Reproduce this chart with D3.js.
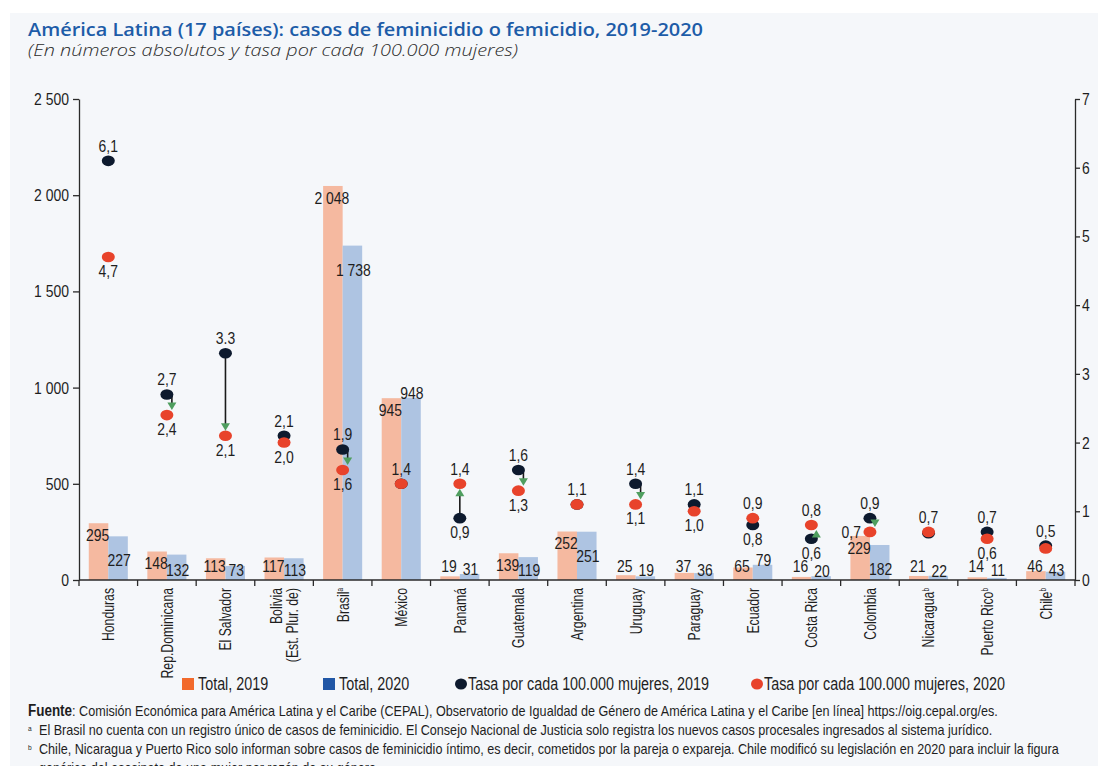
<!DOCTYPE html>
<html>
<head>
<meta charset="utf-8">
<script src="https://cdn.jsdelivr.net/npm/d3@7"></script>
<style>
  body { margin: 0; background: #fff; }
  svg text { font-family: "Liberation Sans", Arial, sans-serif; fill: #1e1e1e; }
  svg text.title { font-family: "Open Sans", sans-serif; }
</style>
</head>
<body>
<svg id="chart" width="1098" height="766"></svg>
<script>
const countries = ['Honduras', 'Rep.Dominicana', 'El Salvador', 'Bolivia', 'Brasil', 'México', 'Panamá',
  'Guatemala', 'Argentina', 'Uruguay', 'Paraguay', 'Ecuador', 'Costa Rica', 'Colombia', 'Nicaragua',
  'Puerto Rico', 'Chile'];
const countryNotes = ['', '', '', '', 'a', '', '', '', '', '', '', '', '', '', 'b', 'b', 'b'];
const total2019 = [295, 148, 113, 117, 2048, 945, 19, 139, 252, 25, 37, 65, 16, 229, 21, 14, 46];
const total2020 = [227, 132, 73, 113, 1738, 948, 31, 119, 251, 19, 36, 79, 20, 182, 22, 11, 43];
const rate2019 = [6.1, 2.7, 3.3, 2.1, 1.9, 1.4, 0.9, 1.6, 1.1, 1.4, 1.1, 0.8, 0.6, 0.9, 0.68, 0.7, 0.5];
const rate2020 = [4.7, 2.4, 2.1, 2.0, 1.6, 1.4, 1.4, 1.3, 1.1, 1.1, 1.0, 0.9, 0.8, 0.7, 0.7, 0.6, 0.46];
const arrowCountries = ['Rep.Dominicana', 'El Salvador', 'Brasil', 'Panamá', 'Guatemala', 'Uruguay', 'Costa Rica', 'Colombia'];
const leftTicks = [0, 500, 1000, 1500, 2000, 2500];
const rightTicks = [0, 1, 2, 3, 4, 5, 6, 7];
const legendLabels = ['Total, 2019', 'Total, 2020', 'Tasa por cada 100.000 mujeres, 2019', 'Tasa por cada 100.000 mujeres, 2020'];

const colors = {
  bar19: '#f5b9a0', bar20: '#aec4e2',
  leg19: '#f26a2c', leg20: '#2157a6',
  dot19: '#0d1a2e', dot20: '#e8432b',
  arrow: '#4f9e5f', axis: '#2a2a2a'
};

const locale = d3.formatLocale({ decimal: ',', thousands: ' ', grouping: [3], currency: ['', ''] });
const fmtInt = locale.format(',.0f');
const fmtRate = locale.format('.1f');

const data = countries.map((c, i) => ({
  country: c, note: countryNotes[i],
  t19: total2019[i], t20: total2020[i],
  r19: rate2019[i], r20: rate2020[i]
}));

const svg = d3.select('#chart');

// panel + titles
svg.append('rect').attr('x', 10).attr('y', 13).attr('width', 1088).attr('height', 753).attr('fill', '#f5f7fa');

svg.append('text').attr('class', 'title')
  .attr('x', 28).attr('y', 36)
  .attr('textLength', 675).attr('lengthAdjust', 'spacingAndGlyphs')
  .style('font-size', '17.5px').style('font-weight', 600).style('fill', '#1d5ca8')
  .text('América Latina (17 países): casos de feminicidio o femicidio, 2019-2020');

svg.append('text').attr('class', 'title')
  .attr('x', 28).attr('y', 56)
  .attr('textLength', 490).attr('lengthAdjust', 'spacingAndGlyphs')
  .style('font-size', '16px').style('font-style', 'italic').style('font-weight', 300).style('fill', '#2b2b2b')
  .text('(En números absolutos y tasa por cada 100.000 mujeres)');

// scales
const x = d3.scaleBand().domain(countries).range([79, 1075]);
const xs = d3.scaleBand().domain(['2019', '2020']).range([0, x.bandwidth()]).paddingOuter(0.5);
const yL = d3.scaleLinear().domain([0, 2500]).range([580, 99]);
const yR = d3.scaleLinear().domain([0, 7]).range([580, 99]);

// bars
const bars = svg.append('g');
bars.selectAll('rect.b19').data(data).enter().append('rect')
  .attr('x', d => x(d.country) + xs('2019'))
  .attr('y', d => yL(d.t19))
  .attr('width', xs.bandwidth())
  .attr('height', d => yL(0) - yL(d.t19))
  .attr('fill', colors.bar19);
bars.selectAll('rect.b20').data(data).enter().append('rect')
  .attr('x', d => x(d.country) + xs('2020'))
  .attr('y', d => yL(d.t20))
  .attr('width', xs.bandwidth())
  .attr('height', d => yL(0) - yL(d.t20))
  .attr('fill', colors.bar20);

// bar value labels
const label19Y = d => Math.min(yL(d.t19) + 12, 566);
const label20Y = d => d.t20 > d.t19 ? yL(d.t20) - 5 : Math.min(yL(d.t20) + 24, 570);
const barLabels = svg.append('g').style('font-size', '17px').attr('text-anchor', 'middle');
barLabels.selectAll('text.l19').data(data).enter().append('text')
  .attr('x', d => x(d.country) + xs('2019') + xs.bandwidth() / 2 - 1)
  .attr('y', label19Y).attr('dy', '0.35em')
  .text(d => fmtInt(d.t19));
barLabels.selectAll('text.l20').data(data).enter().append('text')
  .attr('x', d => x(d.country) + xs('2020') + xs.bandwidth() / 2 + 1)
  .attr('y', label20Y).attr('dy', '0.35em')
  .text(d => fmtInt(d.t20));

// axes
svg.append('g')
  .attr('transform', 'translate(79,0)')
  .call(d3.axisLeft(yL).tickValues(leftTicks).tickSize(6).tickSizeOuter(0).tickPadding(4).tickFormat(fmtInt))
  .call(g => g.selectAll('text').style('font-size', '17px').style('font-family', null))
  .call(g => g.selectAll('line,path').attr('stroke', colors.axis).attr('stroke-width', 1.3));

svg.append('g')
  .attr('transform', 'translate(1075,0)')
  .call(d3.axisRight(yR).tickValues(rightTicks).tickSize(5).tickSizeOuter(0).tickPadding(2).tickFormat(d3.format('d')))
  .call(g => g.selectAll('text').style('font-size', '17px').style('font-family', null))
  .call(g => g.selectAll('line,path').attr('stroke', colors.axis).attr('stroke-width', 1.3));

const bottom = svg.append('g');
bottom.append('line')
  .attr('x1', 79).attr('x2', 1075).attr('y1', 580).attr('y2', 580)
  .attr('stroke', colors.axis).attr('stroke-width', 1.3);
bottom.selectAll('line.tick').data(countries.concat(['end'])).enter().append('line')
  .attr('x1', d => d === 'end' ? x.range()[1] : x(d))
  .attr('x2', d => d === 'end' ? x.range()[1] : x(d))
  .attr('y1', 580).attr('y2', 586)
  .attr('stroke', colors.axis).attr('stroke-width', 1.3);

// country labels
const cLabels = bottom.selectAll('g.cl').data(data).enter().append('g')
  .attr('transform', d => `translate(${x(d.country) + x.bandwidth() / 2},588) rotate(-90)`);
cLabels.each(function (d) {
  const g = d3.select(this);
  const lines = d.country === 'Bolivia' ? ['Bolivia', '(Est. Plur. de)'] : [d.country];
  lines.forEach((ln, k) => {
    const t = g.append('text').attr('class', 'cname')
      .attr('text-anchor', 'end')
      .attr('y', (k - (lines.length - 1) / 2) * 16)
      .attr('dy', '0.35em')
      .style('font-size', '17px');
    t.append('tspan').text(ln);
    if (d.note) {
      t.append('tspan').text(d.note).attr('dy', '-0.6em').style('font-size', '9px');
    }
  });
});

// rates: arrows, dots, labels
const cx = d => x(d.country) + x.bandwidth() / 2;
const arrowData = data.filter(d => arrowCountries.includes(d.country)).map(d => {
  const y0 = yR(d.r19), y1 = yR(d.r20);
  const dir = y1 > y0 ? 1 : -1;
  const off = Math.abs(y1 - y0) > 30 ? 0 : 5;
  return { x: cx(d) + off, y0, tip: y1 - dir * 5, dir };
});

svg.append('g').selectAll('line').data(arrowData).enter().append('line')
  .attr('x1', d => d.x).attr('x2', d => d.x)
  .attr('y1', d => d.y0).attr('y2', d => d.tip - d.dir * 6)
  .attr('stroke', '#1a1a1a').attr('stroke-width', 1.6);

svg.append('g').selectAll('ellipse').data(data).enter().append('ellipse')
  .attr('cx', cx).attr('cy', d => yR(d.r19))
  .attr('rx', 6.5).attr('ry', 5.3)
  .attr('fill', colors.dot19);
svg.append('g').selectAll('ellipse').data(data).enter().append('ellipse')
  .attr('cx', cx).attr('cy', d => yR(d.r20))
  .attr('rx', 6.5).attr('ry', 5.3)
  .attr('fill', colors.dot20);

svg.append('g').selectAll('path').data(arrowData).enter().append('path')
  .attr('d', d => `M${d.x},${d.tip} L${d.x - 4.5},${d.tip - d.dir * 7.5} L${d.x + 4.5},${d.tip - d.dir * 7.5} Z`)
  .attr('fill', colors.arrow);

const rateLabels = [];
data.forEach(d => {
  const l19 = d.country === 'El Salvador' ? '3.3' : fmtRate(d.r19);
  const l20 = fmtRate(d.r20);
  const y19 = yR(d.r19), y20 = yR(d.r20);
  if (l19 === l20) {
    rateLabels.push({ x: cx(d), y: Math.min(y19, y20) - 15, text: l19, anchor: 'middle' });
    return;
  }
  const upper = d.r19 > d.r20 ? { y: y19, t: l19 } : { y: y20, t: l20 };
  const lower = d.r19 > d.r20 ? { y: y20, t: l20 } : { y: y19, t: l19 };
  rateLabels.push({ x: cx(d), y: upper.y - 15, text: upper.t, anchor: 'middle' });
  // move a lower label aside when it would sit on the bar value
  if (Math.abs(lower.y + 14 - label19Y(d)) < 8) {
    rateLabels.push({ x: cx(d) - 9, y: lower.y, text: lower.t, anchor: 'end' });
  } else {
    rateLabels.push({ x: cx(d), y: lower.y + 14, text: lower.t, anchor: 'middle' });
  }
});

svg.append('g').style('font-size', '17px')
  .selectAll('text').data(rateLabels).enter().append('text')
  .attr('x', d => d.x).attr('y', d => d.y).attr('dy', '0.35em')
  .attr('text-anchor', d => d.anchor)
  .text(d => d.text);

// legend
const legend = svg.append('g').style('font-size', '17.5px');
const legendItems = [
  { x: 182, shape: 'rect', color: colors.leg19 },
  { x: 323, shape: 'rect', color: colors.leg20 },
  { x: 455, shape: 'dot', color: colors.dot19 },
  { x: 751, shape: 'dot', color: colors.dot20 }
];
legendItems.forEach((it, i) => {
  if (it.shape === 'rect') {
    legend.append('rect').attr('x', it.x).attr('y', 678).attr('width', 12).attr('height', 12).attr('fill', it.color);
    legend.append('text').attr('x', it.x + 16).attr('y', 684).attr('dy', '0.35em').text(legendLabels[i]);
  } else {
    legend.append('ellipse').attr('cx', it.x + 6).attr('cy', 684).attr('rx', 6).attr('ry', 5.5).attr('fill', it.color);
    legend.append('text').attr('x', it.x + 13).attr('y', 684).attr('dy', '0.35em').text(legendLabels[i]);
  }
});

// sources and notes
const foot = svg.append('g').style('font-size', '15px').style('fill', '#333');
const f1 = foot.append('text').attr('class', 'note').attr('x', 28).attr('y', 716);
f1.append('tspan').style('font-weight', 'bold').style('font-size', '16px').text('Fuente');
f1.append('tspan').text(': Comisión Económica para América Latina y el Caribe (CEPAL), Observatorio de Igualdad de Género de América Latina y el Caribe [en línea] https://oig.cepal.org/es.');

foot.append('text').attr('x', 28).attr('y', 731).style('font-size', '8px').text('a');
foot.append('text').attr('class', 'note').attr('x', 39).attr('y', 735)
  .text('El Brasil no cuenta con un registro único de casos de feminicidio. El Consejo Nacional de Justicia solo registra los nuevos casos procesales ingresados al sistema jurídico.');
foot.append('text').attr('x', 28).attr('y', 750).style('font-size', '8px').text('b');
foot.append('text').attr('class', 'note').attr('x', 39).attr('y', 754)
  .text('Chile, Nicaragua y Puerto Rico solo informan sobre casos de feminicidio íntimo, es decir, cometidos por la pareja o expareja. Chile modificó su legislación en 2020 para incluir la figura');
foot.append('text').attr('class', 'note').attr('x', 39).attr('y', 773)
  .text('genérica del asesinato de una mujer por razón de su género.');

// the source uses a condensed face: squeeze the Arial-metric text horizontally
svg.selectAll('text:not(.title)').each(function () {
  const el = d3.select(this);
  const k = el.classed('cname') ? 0.72 : el.classed('note') ? 0.84 : 0.82;
  const w = this.getComputedTextLength();
  if (w > 0) el.attr('textLength', w * k).attr('lengthAdjust', 'spacingAndGlyphs');
});
</script>
</body>
</html>
